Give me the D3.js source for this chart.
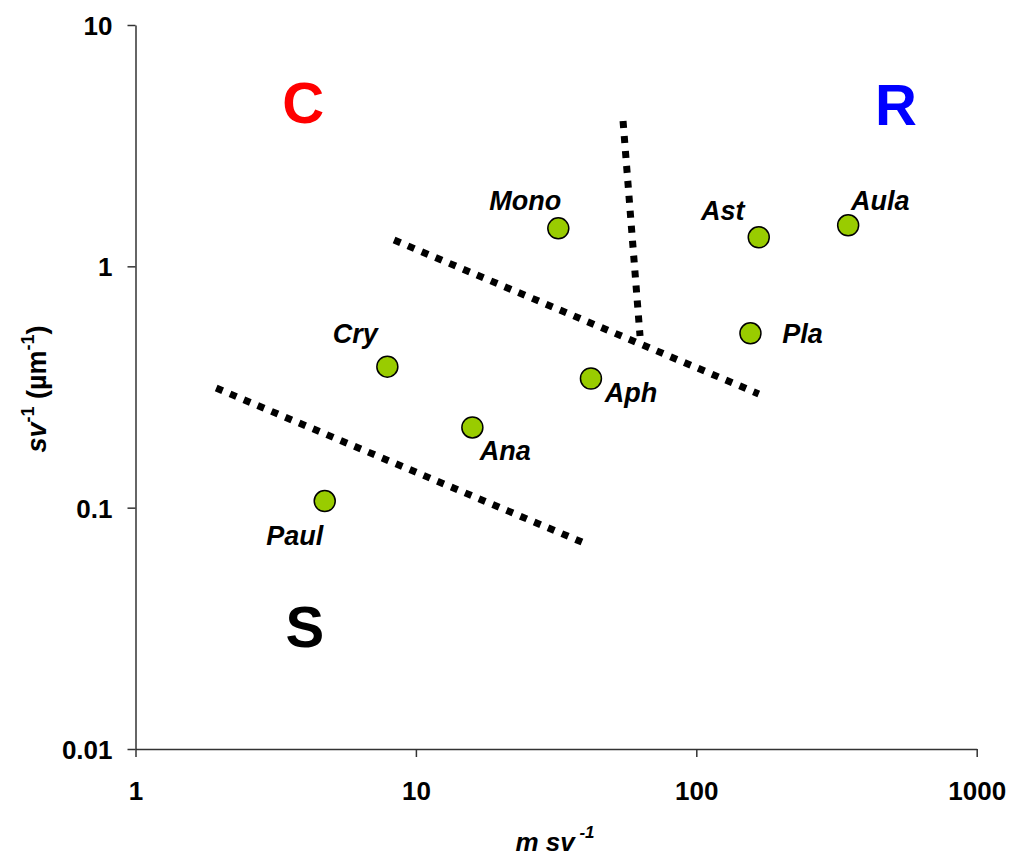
<!DOCTYPE html>
<html>
<head>
<meta charset="utf-8">
<script src="https://cdn.jsdelivr.net/npm/d3@7"></script>
<style>
  html, body { margin: 0; padding: 0; background: #ffffff; }
  svg { display: block; font-family: Arial, "Liberation Sans", Helvetica, sans-serif; }
</style>
</head>
<body>
<svg id="chart" width="1010" height="856"></svg>
<script>
// Taxa: specific growth term (m sv^-1) against surface/volume ratio (sv^-1, µm^-1)
const taxa   = ["Mono", "Ast", "Aula", "Pla", "Aph", "Cry", "Ana", "Paul"];
const xVals  = [32.2, 167, 348, 156, 42.1, 7.91, 15.9, 4.73];
const yVals  = [1.437, 1.319, 1.479, 0.528, 0.343, 0.384, 0.215, 0.1065];

// Boundaries between the C, S and R strategy fields (two end points each)
const boundaryX = [[1.94, 39.1], [8.36, 167], [54.8, 63.0]];
const boundaryY = [[0.313, 0.072], [1.285, 0.296], [4.00, 0.514]];

// Strategy field letters and where they sit (data coordinates)
const fieldNames = ["C", "R", "S"];
const fieldX     = [3.96, 515, 4.02];
const fieldY     = [3.93, 3.85, 0.02645];

const xTicks = [1, 10, 100, 1000];
const yTicks = [0.01, 0.1, 1, 10];

const W = 1010, H = 856;
const margin = { top: 25, right: 33.3, bottom: 107, left: 135.5 };

const svg = d3.select("#chart");

const x = d3.scaleLog().domain([1, 1000]).range([margin.left, W - margin.right]);
const y = d3.scaleLog().domain([0.01, 10]).range([H - margin.bottom, margin.top]);

const axisColor = "#333333";

// Y axis
const yAxis = svg.append("g")
  .attr("transform", `translate(${margin.left},0)`)
  .call(d3.axisLeft(y).tickValues(yTicks).tickSize(8).tickSizeOuter(0).tickPadding(15)
    .tickFormat(d => d >= 1 ? d3.format("d")(d) : String(d)));

// X axis
const xAxis = svg.append("g")
  .attr("transform", `translate(0,${H - margin.bottom})`)
  .call(d3.axisBottom(x).tickValues(xTicks).tickSize(8).tickSizeOuter(0).tickPadding(25)
    .tickFormat(d3.format("d")));

[yAxis, xAxis].forEach(g => {
  g.select(".domain").attr("stroke", axisColor).attr("stroke-width", 1.5);
  g.selectAll(".tick line").attr("stroke", axisColor).attr("stroke-width", 1.5);
  g.selectAll(".tick text")
    .attr("fill", "#000")
    .style("font-size", "26px")
    .style("font-weight", "bold")
    .style("font-family", "Arial, 'Liberation Sans', sans-serif");
});
yAxis.selectAll(".tick text").attr("dy", "0.36em");

// Axis titles
const xTitle = svg.append("text")
  .attr("x", 555).attr("y", 851)
  .attr("text-anchor", "middle")
  .style("font-size", "26px").style("font-weight", "bold").style("font-style", "italic");
xTitle.append("tspan").text("m sv");
xTitle.append("tspan").attr("dy", -13).style("font-size", "17px").text(" -1");

const yTitle = svg.append("text")
  .attr("transform", "translate(46,389) rotate(-90)")
  .attr("text-anchor", "middle")
  .style("font-size", "27px").style("font-weight", "bold");
yTitle.append("tspan").style("font-style", "italic").text("sv");
yTitle.append("tspan").attr("dy", -12).style("font-size", "18px").text("-1");
yTitle.append("tspan").attr("dy", 12).text(" (µm");
yTitle.append("tspan").attr("dy", -12).style("font-size", "18px").text("-1");
yTitle.append("tspan").attr("dy", 12).text(")");

// Dotted boundary lines
const boundaries = boundaryX.map((xs, i) => xs.map((xv, j) => [xv, boundaryY[i][j]]));
svg.append("g").selectAll("line")
  .data(boundaries)
  .join("line")
  .attr("x1", d => x(d[0][0])).attr("y1", d => y(d[0][1]))
  .attr("x2", d => x(d[1][0])).attr("y2", d => y(d[1][1]))
  .attr("stroke", "#000")
  .attr("stroke-width", 7)
  .attr("stroke-dasharray", "7 8");

// Strategy field letters
const fieldColors = { C: "#ff0000", R: "#0000ff", S: "#000000" };
svg.append("g").selectAll("text")
  .data(fieldNames)
  .join("text")
  .attr("x", (d, i) => x(fieldX[i]))
  .attr("y", (d, i) => y(fieldY[i]))
  .attr("text-anchor", "middle")
  .attr("fill", d => fieldColors[d])
  .style("font-size", "58px").style("font-weight", "bold")
  .text(d => d);

// Taxa points
const points = taxa.map((name, i) => ({ name, xv: xVals[i], yv: yVals[i] }));

svg.append("g").selectAll("circle")
  .data(points)
  .join("circle")
  .attr("cx", d => x(d.xv))
  .attr("cy", d => y(d.yv))
  .attr("r", 10.5)
  .attr("fill", "#99cc00")
  .attr("stroke", "#000")
  .attr("stroke-width", 1.5);

// Label placement relative to each point
const labelOffset = {
  Mono: [-33, -18], Ast: [-36, -17], Aula: [32, -15], Pla: [52, 10],
  Aph: [40, 24], Cry: [-32, -24], Ana: [33, 33], Paul: [-30, 44]
};

svg.append("g").selectAll("text")
  .data(points)
  .join("text")
  .attr("x", d => x(d.xv) + labelOffset[d.name][0])
  .attr("y", d => y(d.yv) + labelOffset[d.name][1])
  .attr("text-anchor", "middle")
  .style("font-size", "27px").style("font-weight", "bold").style("font-style", "italic")
  .text(d => d.name);
</script>
</body>
</html>
